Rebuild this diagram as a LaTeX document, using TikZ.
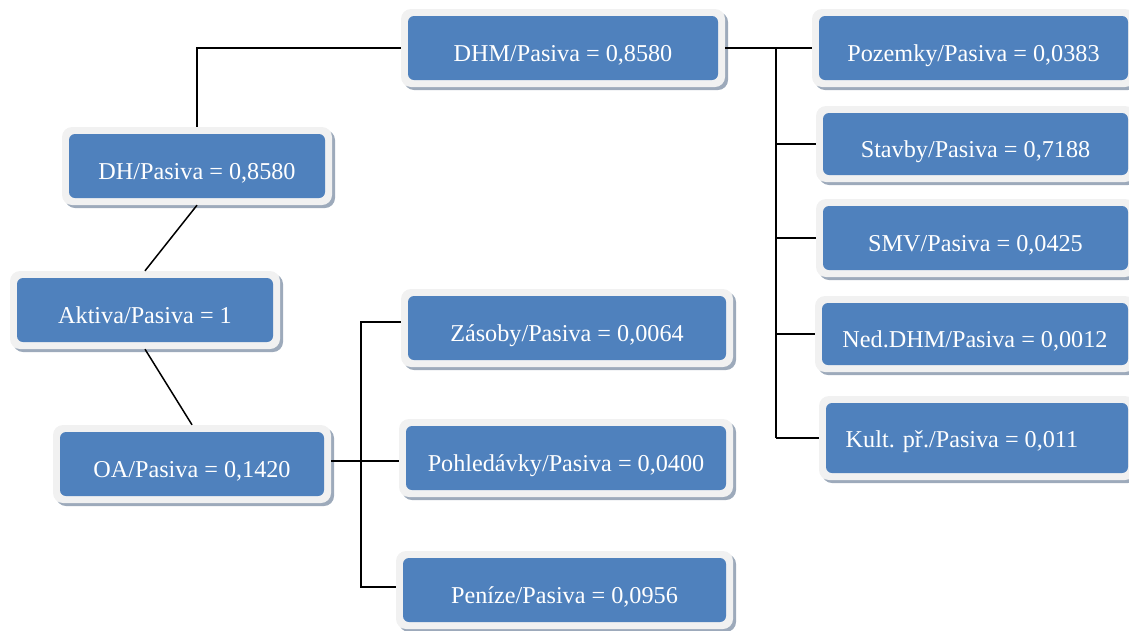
\documentclass[tikz,border=0pt]{standalone}
\usepackage{fontspec}
\setmainfont{Liberation Serif}
\usetikzlibrary{fit,shadows}
\definecolor{boxblue}{HTML}{4F81BD}
\definecolor{framegray}{HTML}{F1F1F1}
\definecolor{shadowc}{HTML}{9DAABB}
\tikzset{
  frame/.style={fill=framegray, rounded corners=10pt, inner sep=0pt,
    drop shadow={shadow xshift=3pt, shadow yshift=-3pt, fill=shadowc, opacity=1}},
  inbox/.style={fill=boxblue, rounded corners=6pt, inner sep=0pt, text=white,
    font=\fontsize{24.2}{28}\selectfont},
  conn/.style={draw=black, line width=1.5pt},
}
\newcommand{\mybox}[7][13pt]{%
  \node[frame, fit={(#3,#4)(#5,#6)}] (#2) {};
  \node[inbox, fit={(#3+7,#4+7)(#5-7,#6-7)}] (#2-in) {\smash{\raisebox{-#1}{#7}}};
}
\begin{document}
\begin{tikzpicture}[x=1pt,y=-1pt]
\useasboundingbox (0,0) rectangle (1129,630);
\clip (0,0) rectangle (1129,630);
% boxes
\mybox{dh}{62}{127}{332}{205}{DH/Pasiva = 0,8580}
\mybox{akt}{10}{271}{280}{349}{Aktiva/Pasiva = 1}
\mybox{oa}{53}{425}{331}{503}{OA/Pasiva = 0,1420}
\mybox{dhm}{401}{9}{725}{87}{DHM/Pasiva = 0,8580}
\mybox{zas}{401}{289}{733}{367}{Zásoby/Pasiva = 0,0064}
\mybox{poh}{399}{419}{733}{497}{Pohledávky/Pasiva = 0,0400}
\mybox{pen}{396}{551}{733}{629}{Peníze/Pasiva = 0,0956}
\mybox{poz}{812}{9}{1135}{87}{Pozemky/Pasiva = 0,0383}
\mybox{sta}{816}{106}{1135}{182}{Stavby/Pasiva = 0,7188}
\mybox{smv}{816}{199}{1135}{277}{SMV/Pasiva = 0,0425}
\mybox{ned}{815}{296}{1135}{372}{Ned.DHM/Pasiva = 0,0012}
\mybox[9pt]{kul}{819}{396}{1135}{480}{Kult. př./Pasiva = 0,011\hspace*{30pt}}
% junction coordinates
\coordinate (rx) at (776,0);
\coordinate (lx) at (361,0);
\coordinate (yz) at (0,322);
\coordinate (yo) at (0,461);
\coordinate (yp) at (0,587);
% connectors
\draw[conn] (dh.north) |- (dhm.west);
\draw[conn] (dh.south) -- (akt.north);
\draw[conn] (akt.south) -- (oa.north);
\draw[conn] (dhm.east) -- (poz.west);
\draw[conn] (dhm.east -| rx) -- (kul.west -| rx);
\draw[conn] (sta.west -| rx) -- (sta.west);
\draw[conn] (smv.west -| rx) -- (smv.west);
\draw[conn] (ned.west -| rx) -- (ned.west);
\draw[conn] (kul.west -| rx) -- (kul.west);
\draw[conn] (oa.east |- yo) -- (poh.west |- yo);
\draw[conn] (zas.west |- yz) -- (lx |- yz) -- (lx |- yp) -- (pen.west |- yp);
\end{tikzpicture}
\end{document}
